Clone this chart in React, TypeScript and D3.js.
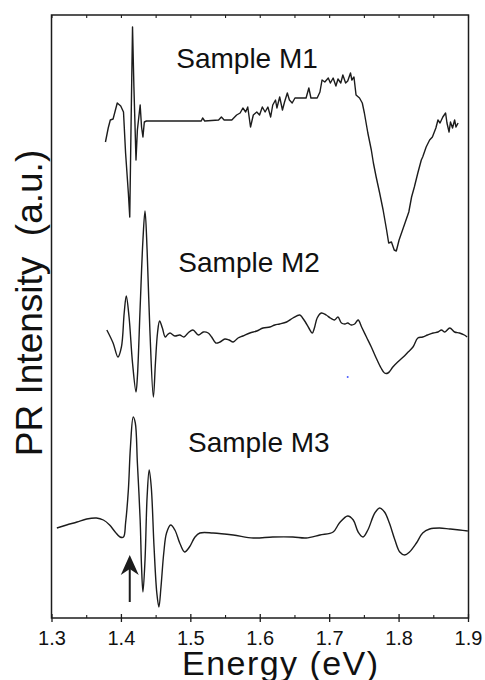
import React from "react";
import * as d3 from "d3";

// Energy axis (eV)
const majorTicks = [1.3, 1.4, 1.5, 1.6, 1.7, 1.8, 1.9];
const minorTicks = [1.35, 1.45, 1.55, 1.65, 1.75, 1.85];

// Sample M1
const m1Energy = [1.377,1.381,1.384,1.388,1.394,1.399,1.403,1.406,1.410,1.412,1.414,1.416,1.418,1.421,1.423,1.427,1.429,1.431,1.433,1.436,1.500,1.515,1.517,1.520,1.540,1.544,1.548,1.559,1.566,1.571,1.575,1.579,1.582,1.586,1.590,1.595,1.599,1.603,1.607,1.611,1.615,1.618,1.622,1.624,1.628,1.632,1.635,1.639,1.642,1.646,1.650,1.657,1.666,1.670,1.673,1.682,1.686,1.689,1.693,1.698,1.701,1.705,1.709,1.712,1.716,1.719,1.723,1.726,1.730,1.732,1.735,1.738,1.743,1.747,1.750,1.755,1.760,1.763,1.767,1.772,1.777,1.782,1.785,1.789,1.793,1.796,1.800,1.805,1.809,1.814,1.818,1.822,1.827,1.832,1.834,1.839,1.844,1.848,1.853,1.856,1.859,1.863,1.867,1.869,1.872,1.874,1.877,1.880,1.882,1.885];
const m1Intensity = [47.6,49.0,49.8,49.9,51.5,51.2,50.6,46.5,42.5,40.1,49.8,59.1,53.1,45.8,48.8,51.3,49.1,48.1,49.6,49.7,49.7,49.7,50.0,49.7,49.8,50.1,49.8,49.8,50.3,50.5,51.0,50.6,51.1,49.1,50.3,50.6,50.3,51.1,50.6,51.1,50.1,51.3,51.8,51.0,52.1,50.8,51.6,52.5,51.8,51.5,52.0,52.0,52.0,53.0,52.0,52.0,52.6,53.8,53.6,54.0,53.5,54.0,53.2,53.9,53.5,54.3,53.5,53.7,54.5,53.8,54.1,52.3,52.0,51.5,50.5,48.5,46.8,45.5,44.1,42.5,40.8,38.8,37.5,37.6,36.8,36.7,37.8,38.8,39.6,40.6,42.1,43.1,44.5,45.8,46.1,47.1,47.8,48.1,49.0,49.8,49.5,50.1,50.5,49.5,48.6,49.6,49.0,49.8,49.1,49.5];

// Sample M2
const m2Energy = [1.379,1.388,1.395,1.400,1.404,1.407,1.411,1.416,1.421,1.423,1.427,1.431,1.434,1.437,1.441,1.446,1.449,1.452,1.455,1.459,1.463,1.466,1.470,1.477,1.484,1.490,1.496,1.503,1.511,1.518,1.525,1.530,1.536,1.542,1.549,1.555,1.561,1.568,1.575,1.585,1.595,1.604,1.614,1.621,1.628,1.638,1.647,1.657,1.661,1.665,1.670,1.675,1.678,1.682,1.688,1.695,1.701,1.707,1.712,1.717,1.722,1.726,1.731,1.736,1.741,1.746,1.753,1.760,1.767,1.774,1.779,1.784,1.791,1.798,1.806,1.813,1.820,1.827,1.834,1.841,1.849,1.856,1.861,1.866,1.873,1.880,1.887,1.894,1.898];
const m2Intensity = [28.8,27.5,26.1,27.1,30.5,32.2,30.1,25.5,22.6,24.1,31.1,37.8,40.7,36.8,28.8,22.1,25.5,28.5,29.7,29.0,28.1,28.3,28.5,28.2,28.3,28.1,28.5,28.8,28.3,28.6,28.5,28.1,27.5,27.6,27.9,27.8,27.6,28.0,28.2,28.5,28.7,29.0,29.1,29.3,29.4,29.6,30.0,30.3,30.0,29.6,29.0,28.5,29.0,30.0,30.5,30.3,30.0,29.8,30.1,29.5,29.4,29.5,29.3,29.4,29.8,29.1,28.1,27.1,26.0,25.0,24.5,24.5,25.1,25.6,26.1,26.6,27.1,28.0,28.1,28.3,28.5,28.6,28.8,28.6,29.0,28.6,28.5,28.3,28.1];

// Sample M3
const m3Energy = [1.307,1.321,1.336,1.350,1.364,1.374,1.383,1.391,1.398,1.403,1.406,1.410,1.413,1.417,1.420,1.423,1.427,1.429,1.431,1.434,1.437,1.440,1.443,1.447,1.451,1.454,1.457,1.461,1.465,1.471,1.477,1.484,1.491,1.498,1.506,1.513,1.532,1.561,1.590,1.618,1.647,1.666,1.686,1.705,1.714,1.726,1.734,1.741,1.748,1.755,1.765,1.772,1.779,1.786,1.794,1.801,1.808,1.815,1.825,1.834,1.844,1.858,1.873,1.887,1.899];
const m3Intensity = [9.0,9.3,9.6,9.9,10.0,9.8,9.3,8.6,8.1,8.1,9.5,12.8,17.1,20.1,19.5,15.5,9.8,5.1,2.6,5.8,12.1,14.8,13.1,7.1,2.5,1.1,3.1,6.5,8.5,9.3,8.8,7.5,6.6,7.1,8.1,8.5,8.5,8.3,8.0,8.1,8.1,8.0,8.3,8.6,9.5,10.2,9.8,8.6,8.1,8.8,10.5,11.0,10.6,9.5,7.8,6.6,6.3,6.6,7.5,8.5,8.9,9.0,8.9,8.8,8.7];

// Sample labels: [energy, intensity, text]
const labelEnergy = [1.479, 1.482, 1.496];
const labelIntensity = [55.0, 34.6, 16.6];
const labelText = ["Sample M1", "Sample M2", "Sample M3"];

// Arrow marking the transition in M3
const arrowEnergy = 1.412;
const arrowFrom = 1.6;
const arrowTo = 6.3;

// stray blue speck in the original
const speckEnergy = 1.726;
const speckIntensity = 24.1;

function zip(e: number[], v: number[]): [number, number][] {
  const n = Math.min(e.length, v.length);
  const out: [number, number][] = [];
  for (let i = 0; i < n; i++) out.push([e[i], v[i]]);
  return out;
}

export default function App() {
  const W = 485, H = 680;
  const left = 51.5, right = 468.5, top = 15, bottom = 618;
  const x = d3.scaleLinear().domain([1.3, 1.9]).range([52, 468.5]);
  const y = d3.scaleLinear().domain([0, 60.3]).range([bottom, top]);

  const lineSharp = d3.line<[number, number]>().x(d => x(d[0])).y(d => y(d[1]));
  const lineSmooth = d3.line<[number, number]>().x(d => x(d[0])).y(d => y(d[1])).curve(d3.curveCatmullRom.alpha(0.5));

  const m1 = zip(m1Energy, m1Intensity);
  const m2 = zip(m2Energy, m2Intensity);
  const m3 = zip(m3Energy, m3Intensity);

  const font = "'Liberation Sans', Arial, Helvetica, sans-serif";
  const ink = "#1c1c1c";

  const ax = x(arrowEnergy);
  const aTip = y(arrowTo);
  const aBase = y(arrowFrom);

  return (
    <svg width={W} height={H} style={{ position: "absolute", left: 0, top: 0, background: "#fff" }}>
      <rect x={0} y={0} width={W} height={H} fill="#fff" />
      {/* frame */}
      <rect x={left} y={top} width={right - left} height={bottom - top} fill="none" stroke={ink} strokeWidth={1.5} />
      {/* bottom ticks */}
      {majorTicks.map(t => (
        <line key={"bt" + t} x1={x(t)} x2={x(t)} y1={bottom - 4} y2={bottom + 4} stroke={ink} strokeWidth={1.3} />
      ))}
      {minorTicks.map(t => (
        <line key={"bm" + t} x1={x(t)} x2={x(t)} y1={bottom - 3} y2={bottom} stroke={ink} strokeWidth={1.1} />
      ))}
      {/* top ticks */}
      {[...majorTicks, ...minorTicks].map(t => (
        <line key={"tt" + t} x1={x(t)} x2={x(t)} y1={top} y2={top + 3} stroke={ink} strokeWidth={1.1} />
      ))}
      {majorTicks.map(t => (
        <text key={"tl" + t} x={x(t)} y={645} textAnchor="middle" fontFamily={font} fontSize={20} fill="#111">
          {t.toFixed(1)}
        </text>
      ))}
      <text x={280} y={675} textAnchor="middle" fontFamily={font} fontSize={34} fill="#111" textLength={196} lengthAdjust="spacing">
        Energy (eV)
      </text>
      <text transform={`translate(42,303) rotate(-90)`} textAnchor="middle" fontFamily={font} fontSize={37} fill="#111" style={{ whiteSpace: "pre" }}>
        {"PR Intensity  (a.u.)"}
      </text>

      {/* curves */}
      <path d={lineSharp(m1) || ""} fill="none" stroke={ink} strokeWidth={1.4} strokeLinejoin="round" />
      <path d={lineSmooth(m2) || ""} fill="none" stroke={ink} strokeWidth={1.4} strokeLinejoin="round" />
      <path d={lineSmooth(m3) || ""} fill="none" stroke={ink} strokeWidth={1.4} strokeLinejoin="round" />

      {labelText.map((s, i) => (
        <text key={s} x={x(labelEnergy[i])} y={y(labelIntensity[i])} fontFamily={font} fontSize={28} fill="#111">
          {s}
        </text>
      ))}

      {/* arrow */}
      <line x1={ax} x2={ax} y1={aBase} y2={aTip + 10} stroke={ink} strokeWidth={2} />
      <path d={`M${ax},${aTip} L${ax + 9},${aTip + 20} L${ax},${aTip + 14} L${ax - 9},${aTip + 20} Z`} fill={ink} />

      <circle cx={x(speckEnergy)} cy={y(speckIntensity)} r={1} fill="#4a5cff" />
    </svg>
  );
}
